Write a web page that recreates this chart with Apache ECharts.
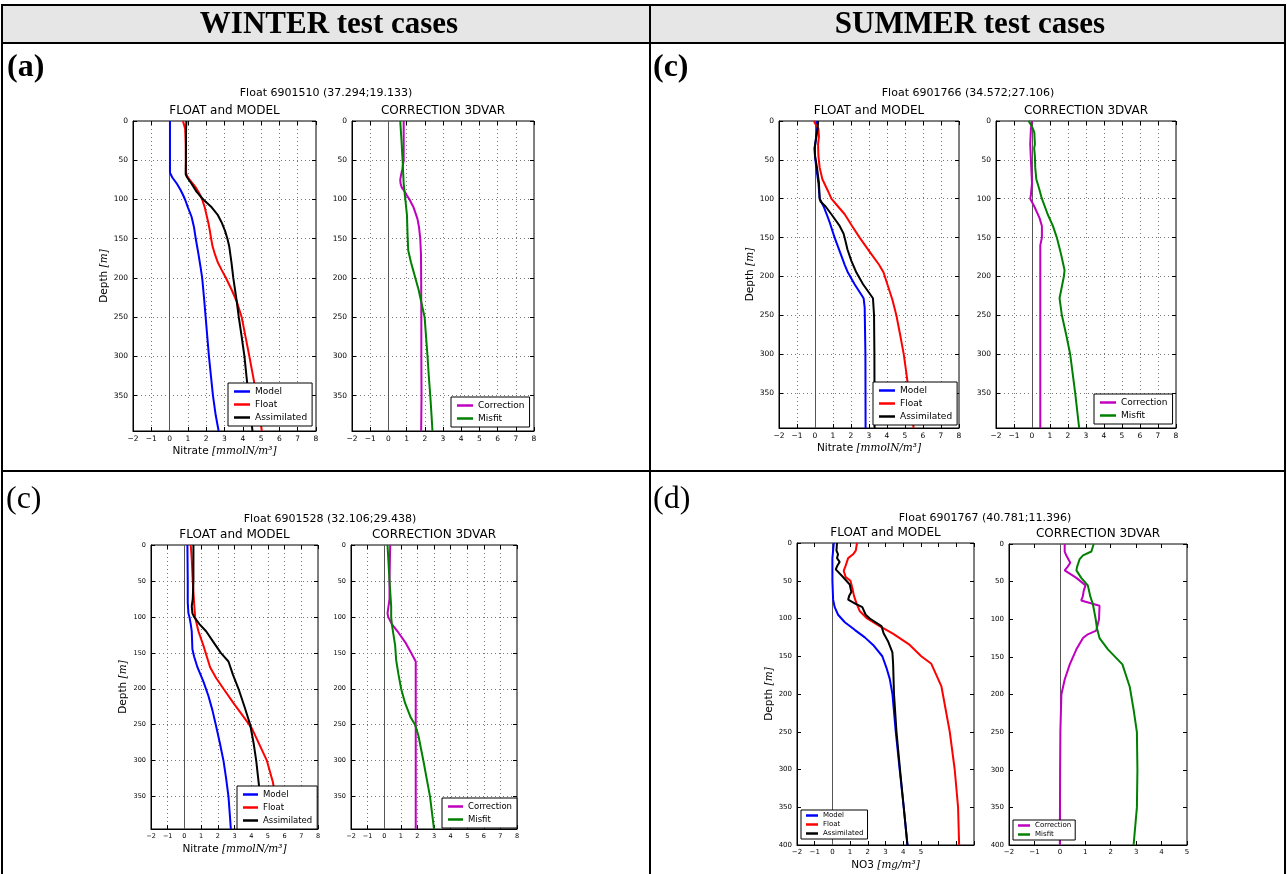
<!DOCTYPE html>
<html><head><meta charset="utf-8">
<script src="https://cdn.jsdelivr.net/npm/echarts@6/dist/echarts.min.js"></script>
<style>html,body{margin:0;padding:0;background:#fff}#c{width:1287px;height:874px}</style>
</head><body><div id="c"></div>
<script>
// ---------- DATA : pairs are [depth (m), value] ----------
const XTICKS = [-2,-1,0,1,2,3,4,5,6,7,8];
const YTICKS = [0,50,100,150,200,250,300,350,400];

// (a) WINTER – Float 6901510
const A_MODEL = [[0,0.02],[30,0.02],[66,0.02],[72,0.15],[80,0.4],[88,0.6],[94,0.73],[101,0.86],[110,1.0],[122,1.2],[135,1.33],[150,1.43],[170,1.58],[186,1.69],[200,1.78],[225,1.88],[250,1.97],[275,2.06],[300,2.15],[325,2.26],[350,2.37],[375,2.52],[395,2.68]];
const A_FLOAT = [[0,0.73],[10,0.85],[30,0.88],[50,0.89],[65,0.89],[70,0.95],[75,1.1],[85,1.44],[92,1.62],[100,1.78],[110,1.92],[120,2.02],[130,2.12],[140,2.2],[150,2.27],[160,2.35],[170,2.48],[180,2.63],[190,2.85],[200,3.08],[215,3.39],[230,3.67],[250,3.94],[275,4.15],[300,4.36],[325,4.56],[350,4.76],[375,4.92],[395,5.04]];
const A_ASSIM = [[0,0.92],[10,0.9],[50,0.89],[68,0.88],[72,0.96],[80,1.2],[90,1.47],[100,1.84],[110,2.3],[120,2.64],[130,2.86],[140,3.03],[150,3.16],[160,3.26],[180,3.38],[200,3.48],[230,3.67],[250,3.78],[275,3.94],[300,4.09],[325,4.2],[350,4.31],[375,4.43],[395,4.53]];
const A_CORR = [[0,0.84],[20,0.84],[50,0.84],[62,0.76],[68,0.7],[75,0.65],[80,0.67],[85,0.74],[90,0.9],[95,1.02],[100,1.16],[110,1.38],[118,1.5],[125,1.6],[135,1.68],[150,1.75],[170,1.79],[200,1.8],[250,1.81],[300,1.81],[350,1.82],[395,1.8]];
const A_MISFIT = [[0,0.65],[25,0.72],[50,0.78],[80,0.84],[100,0.93],[120,1.02],[150,1.06],[165,1.09],[180,1.24],[190,1.36],[200,1.48],[215,1.66],[230,1.8],[250,1.99],[275,2.07],[300,2.15],[325,2.22],[350,2.3],[375,2.37],[395,2.42]];

// (c) SUMMER – Float 6901766
const C_MODEL = [[0,0.11],[10,0.11],[20,0.07],[35,-0.02],[45,0.0],[60,0.07],[80,0.19],[100,0.26],[110,0.48],[120,0.65],[130,0.81],[150,1.09],[170,1.41],[185,1.65],[195,1.83],[210,2.2],[228,2.7],[240,2.76],[300,2.8],[395,2.81]];
const C_FLOAT = [[0,-0.06],[5,0.05],[10,0.19],[20,0.22],[30,0.17],[45,0.19],[60,0.26],[75,0.41],[90,0.72],[100,0.91],[110,1.28],[120,1.65],[135,2.06],[150,2.48],[170,3.09],[185,3.56],[195,3.81],[210,4.02],[230,4.3],[250,4.52],[275,4.73],[300,4.93],[325,5.08],[350,5.22],[375,5.36],[395,5.48]];
const C_ASSIM = [[0,0.17],[10,0.15],[20,0.07],[35,-0.02],[45,0.0],[60,0.11],[80,0.22],[100,0.26],[104,0.32],[110,0.59],[120,0.91],[135,1.37],[145,1.59],[155,1.7],[165,1.8],[180,2.02],[195,2.3],[210,2.67],[228,3.22],[250,3.28],[300,3.3],[395,3.31]];
const C_CORR = [[0,0.0],[10,-0.06],[30,-0.1],[50,-0.06],[80,0.0],[95,-0.06],[100,-0.1],[110,0.13],[125,0.42],[135,0.55],[150,0.55],[160,0.46],[200,0.46],[300,0.46],[395,0.46]];
const C_MISFIT = [[0,-0.19],[5,-0.05],[10,0.05],[15,0.13],[30,0.16],[35,0.12],[45,0.16],[60,0.18],[75,0.24],[85,0.37],[100,0.55],[120,0.87],[135,1.16],[150,1.38],[170,1.6],[192,1.81],[200,1.77],[228,1.53],[250,1.66],[275,1.9],[300,2.12],[350,2.4],[395,2.62]];

// (c) WINTER – Float 6901528
const E_MODEL = [[0,0.18],[50,0.2],[80,0.2],[95,0.24],[100,0.3],[110,0.38],[120,0.44],[145,0.48],[155,0.58],[170,0.78],[190,1.14],[210,1.44],[230,1.68],[250,1.88],[275,2.12],[300,2.34],[325,2.5],[350,2.64],[375,2.72],[395,2.78]];
const E_FLOAT = [[0,0.38],[20,0.44],[50,0.5],[80,0.58],[100,0.64],[120,0.84],[140,1.14],[155,1.34],[170,1.54],[185,1.9],[200,2.34],[220,2.94],[240,3.58],[255,4.04],[270,4.34],[300,4.94],[330,5.3],[350,5.44],[375,5.64],[395,5.84]];
const E_ASSIM = [[0,0.54],[50,0.54],[75,0.5],[85,0.44],[95,0.48],[100,0.58],[110,0.9],[120,1.3],[135,1.74],[150,2.18],[162,2.64],[180,2.9],[200,3.24],[225,3.6],[250,3.94],[275,4.14],[300,4.3],[350,4.54],[395,4.74]];
const E_CORR = [[0,0.36],[50,0.32],[75,0.32],[85,0.26],[95,0.2],[100,0.24],[110,0.46],[120,0.8],[135,1.26],[150,1.62],[162,1.9],[200,1.9],[300,1.9],[395,1.9]];
const E_MISFIT = [[0,0.2],[50,0.32],[85,0.42],[100,0.42],[110,0.46],[125,0.56],[140,0.66],[160,0.72],[180,0.86],[200,1.02],[220,1.26],[240,1.6],[250,1.86],[265,2.06],[300,2.36],[350,2.76],[395,3.0]];

// (d) SUMMER – Float 6901767
const D_MODEL = [[0,0.08],[20,0.0],[50,0.0],[75,0.04],[85,0.13],[95,0.32],[105,0.7],[115,1.26],[125,1.83],[135,2.3],[150,2.82],[165,3.05],[180,3.24],[200,3.39],[250,3.58],[300,3.8],[350,4.03],[400,4.24]];
const D_FLOAT = [[0,1.39],[10,1.32],[15,1.17],[20,0.89],[30,0.75],[37,0.64],[45,0.75],[50,1.02],[60,1.13],[70,1.22],[80,1.36],[90,1.54],[100,1.96],[110,2.67],[120,3.42],[135,4.37],[150,5.02],[160,5.59],[190,6.16],[250,6.63],[300,6.91],[350,7.1],[400,7.16]];
const D_ASSIM = [[0,0.26],[10,0.23],[15,0.32],[20,0.26],[25,0.41],[30,0.28],[35,0.19],[45,0.6],[55,0.98],[65,1.07],[70,0.95],[75,0.89],[80,1.26],[85,1.69],[95,1.88],[100,2.11],[110,2.77],[120,2.9],[130,3.14],[145,3.39],[160,3.43],[200,3.48],[250,3.62],[300,3.82],[350,4.03],[400,4.24]];
const D_CORR = [[0,0.19],[10,0.19],[15,0.25],[25,0.41],[30,0.31],[35,0.19],[45,0.65],[55,1.01],[62,0.94],[70,0.9],[75,0.84],[82,1.56],[100,1.54],[115,1.43],[120,1.1],[125,0.91],[140,0.65],[160,0.39],[180,0.19],[200,0.06],[250,0.02],[300,0.01],[400,0.0]];
const D_MISFIT = [[0,1.33],[10,1.24],[15,0.91],[20,0.78],[30,0.68],[35,0.65],[45,0.84],[55,1.1],[70,1.2],[80,1.3],[100,1.41],[112,1.46],[125,1.56],[140,1.89],[160,2.46],[190,2.75],[220,2.9],[250,3.03],[300,3.05],[350,3.03],[400,2.9]];

const HEADERS = ['WINTER test cases','SUMMER test cases'];
const LABELS = ['(a)','(c)','(c)','(d)'];
const SUPTITLES = ['Float 6901510 (37.294;19.133)','Float 6901766 (34.572;27.106)','Float 6901528 (32.106;29.438)','Float 6901767 (40.781;11.396)'];
const PANEL_TITLES = ['FLOAT and MODEL','CORRECTION 3DVAR'];
const NAMES_FM = ['Model','Float','Assimilated'];
const NAMES_CO = ['Correction','Misfit'];

// ---------- LAYOUT ----------
const COL = {Model:'#0000ff', Float:'#ff0000', Assimilated:'#000000', Correction:'#bf00bf', Misfit:'#008000'};
const F = 'DejaVu Sans';
const minus = v => v < 0 ? '\u2212' + (-v) : String(v);

const panels = [
  {g:[133,121,183,310], ymax:395, xmax:8, grid:true, left:true, xname:'Nitrate {m|[mmolN/m³]}', names:NAMES_FM, data:[A_MODEL,A_FLOAT,A_ASSIM], lg:{left:228,top:383,fs:9,iw:16}, tf:7.5, title:0},
  {g:[352,121,182,310], ymax:395, xmax:8, grid:true, left:false, names:NAMES_CO, data:[A_CORR,A_MISFIT], lg:{left:451,top:397,fs:9,iw:16}, tf:7.5, title:1},
  {g:[779,121,180,307], ymax:395, xmax:8, grid:true, left:true, xname:'Nitrate {m|[mmolN/m³]}', names:NAMES_FM, data:[C_MODEL,C_FLOAT,C_ASSIM], lg:{left:873,top:382,fs:9,iw:16}, tf:7.5, title:0},
  {g:[996,121,180,307], ymax:395, xmax:8, grid:true, left:false, names:NAMES_CO, data:[C_CORR,C_MISFIT], lg:{left:1094,top:394,fs:9,iw:16}, tf:7.5, title:1},
  {g:[151,545,167,284], ymax:395, xmax:8, grid:true, left:true, xname:'Nitrate {m|[mmolN/m³]}', names:NAMES_FM, data:[E_MODEL,E_FLOAT,E_ASSIM], lg:{left:237,top:786,fs:8.5,iw:15}, tf:6.5, title:0},
  {g:[351,545,166,284], ymax:395, xmax:8, grid:true, left:false, names:NAMES_CO, data:[E_CORR,E_MISFIT], lg:{left:442,top:798,fs:8.5,iw:15}, tf:6.5, title:1},
  {g:[797,543,177,302], ymax:400, xmax:8, grid:false, left:true, xname:'NO3 {m|[mg/m³]}', names:NAMES_FM, data:[D_MODEL,D_FLOAT,D_ASSIM], lg:{left:801,top:810,fs:7,iw:12}, tf:7, title:0, xlabMax:5},
  {g:[1009,544,178,301], ymax:400, xmax:5, grid:false, left:false, names:NAMES_CO, data:[D_CORR,D_MISFIT], lg:{left:1013,top:820,fs:7,iw:12}, tf:7, title:1}
];

const option = {animation:false, backgroundColor:'#fff', grid:[], xAxis:[], yAxis:[], series:[], legend:[], graphic:[]};
const G = option.graphic;

// table
G.push({type:'rect', shape:{x:2,y:5,width:1283,height:38}, style:{fill:'#e7e6e6'}, silent:true});
const L = (x1,y1,x2,y2) => G.push({type:'line', shape:{x1,y1,x2,y2}, style:{stroke:'#000', lineWidth:2}, silent:true});
L(1,5,1286,5); L(1,43,1286,43); L(1,471,1286,471);
L(2,4,2,874); L(650,4,650,874); L(1285,4,1285,874);
G.push({type:'text', style:{x:329, y:25, text:HEADERS[0], textAlign:'center', textVerticalAlign:'middle', font:'bold 31px "Liberation Serif"', fill:'#000'}});
G.push({type:'text', style:{x:970, y:25, text:HEADERS[1], textAlign:'center', textVerticalAlign:'middle', font:'bold 31px "Liberation Serif"', fill:'#000'}});
const LABPOS = [[7,68,'bold'],[653,68,'bold'],[6,500,'normal'],[653,500,'normal']];
LABELS.forEach((t,i)=>G.push({type:'text', style:{x:LABPOS[i][0], y:LABPOS[i][1], text:t, textAlign:'left', textVerticalAlign:'middle', font:LABPOS[i][2]+' 32px "Liberation Serif"', fill:'#000'}}));
const SUPPOS = [[326,93],[968,93],[330,519],[985,518]];
SUPTITLES.forEach((t,i)=>G.push({type:'text', style:{x:SUPPOS[i][0], y:SUPPOS[i][1], text:t, textAlign:'center', textVerticalAlign:'middle', font:'11px "DejaVu Sans"', fill:'#000'}}));

const extraX = [], extraY = [];
panels.forEach((p,i)=>{
  const [l,t,w,h] = p.g;
  option.grid.push({left:l, top:t, width:w, height:h, show:true, borderColor:'#000', borderWidth:1, backgroundColor:'transparent'});
  G.push({type:'text', style:{x:l+w/2, y:t-10, text:PANEL_TITLES[p.title], textAlign:'center', textVerticalAlign:'middle', font:'12px "DejaVu Sans"', fill:'#000'}});
  const xa = {type:'value', gridIndex:i, min:-2, max:p.xmax, interval:1, position:'bottom',
    axisLine:{show:true, onZero:false, lineStyle:{color:'#000', width:1}},
    axisTick:{show:true, inside:true, length:4, lineStyle:{color:'#000'}},
    axisLabel:{fontSize:p.tf, fontFamily:F, color:'#000', margin:4, formatter:v => (p.xlabMax!==undefined && v>p.xlabMax) ? '' : minus(v)},
    splitLine:{show:p.grid, lineStyle:{color:'#777', type:[1,3], width:1}}};
  if (p.xname) {
    xa.name = p.xname; xa.nameLocation = 'middle'; xa.nameGap = 15;
    xa.nameTextStyle = {fontSize:10.5, fontFamily:F, color:'#000', rich:{m:{fontSize:10.5, fontFamily:'DejaVu Serif', fontStyle:'italic', color:'#000'}}};
  }
  option.xAxis.push(xa);
  extraX.push({type:'value', gridIndex:i, min:-2, max:p.xmax, interval:1, position:'top',
    axisLine:{show:false, onZero:false}, axisLabel:{show:false}, splitLine:{show:false},
    axisTick:{show:true, inside:true, length:4, lineStyle:{color:'#000'}}});
  const ya = {type:'value', gridIndex:i, min:0, max:p.ymax, interval:50, inverse:true, position:'left',
    axisLine:{show:true, onZero:false, lineStyle:{color:'#000', width:1}},
    axisTick:{show:true, inside:true, length:4, lineStyle:{color:'#000'}},
    axisLabel:{fontSize:p.tf, fontFamily:F, color:'#000', margin:5, showMaxLabel:p.ymax===400, formatter:v => (v%50===0 ? String(v) : '')},
    splitLine:{show:p.grid, lineStyle:{color:'#777', type:[1,3], width:1}}};
  if (p.left) {
    ya.name = 'Depth {m|[m]}'; ya.nameLocation = 'middle'; ya.nameGap = 22; ya.nameRotate = 90;
    ya.nameTextStyle = {fontSize:10.5, fontFamily:F, color:'#000', rich:{m:{fontSize:10.5, fontFamily:'DejaVu Serif', fontStyle:'italic', color:'#000'}}};
  }
  option.yAxis.push(ya);
  extraY.push({type:'value', gridIndex:i, min:0, max:p.ymax, interval:50, inverse:true, position:'right',
    axisLine:{show:false, onZero:false}, axisLabel:{show:false}, splitLine:{show:false},
    axisTick:{show:true, inside:true, length:4, lineStyle:{color:'#000'}}});
  p.names.forEach((n,k)=>{
    const s = {type:'line', name:n, xAxisIndex:i, yAxisIndex:i, showSymbol:false, symbol:'none',
      lineStyle:{color:COL[n], width:2}, itemStyle:{color:COL[n]}, z:3,
      data:p.data[k].map(d=>[d[1], d[0]])};
    if (k===0) s.markLine = {silent:true, symbol:'none', label:{show:false}, z:2,
      lineStyle:{color:'#555', width:1, type:'solid'}, data:[{xAxis:0}]};
    option.series.push(s);
  });
  const big = p.lg.fs > 8;
  option.legend.push({data:p.names, orient:'vertical', left:p.lg.left, top:p.lg.top, icon:'rect',
    itemWidth:p.lg.iw, itemHeight:2.5, itemGap:big?4:2, padding:big?[4,5,4,6]:[2,4,2,5],
    borderColor:'#000', borderWidth:1, backgroundColor:'#fff', selectedMode:false,
    textStyle:{fontSize:p.lg.fs, fontFamily:F, color:'#000'}});
});
option.xAxis = option.xAxis.concat(extraX);
option.yAxis = option.yAxis.concat(extraY);

const chart = echarts.init(document.getElementById('c'), null, {renderer:'canvas'});
chart.setOption(option);
</script>
</body></html>
